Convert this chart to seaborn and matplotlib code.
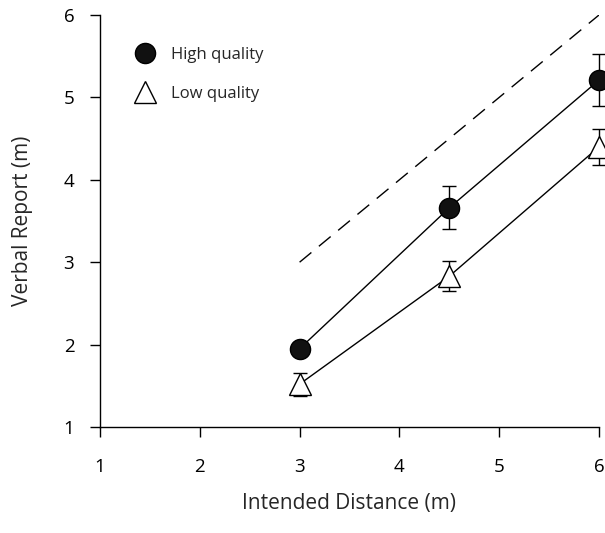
import numpy as np
import pandas as pd
import seaborn as sns
import matplotlib.pyplot as plt
from matplotlib.lines import Line2D

# values
distance = [3.0, 4.5, 6.0]
high_mean = [1.95, 3.66, 5.21]
high_err = [0.0, 0.26, 0.32]
low_mean = [1.52, 2.83, 4.40]
low_err = [0.14, 0.18, 0.22]
veridical = [3.0, 6.0]

df = pd.DataFrame({
    'distance': distance * 2,
    'report': high_mean + low_mean,
    'err': high_err + low_err,
    'quality': ['High quality'] * 3 + ['Low quality'] * 3,
})

sns.set_style('ticks')
plt.rcParams['font.family'] = ['Open Sans', 'DejaVu Sans']

fig = plt.figure(figsize=(6.05, 5.33), dpi=100)
ax = fig.add_axes([100 / 605, (533 - 427) / 533, 499 / 605, 412 / 533])

# veridical line
sns.lineplot(x=veridical, y=veridical, ax=ax, color='black', lw=1.0,
             dashes=False, zorder=1)
ax.lines[-1].set_dashes([11, 7])

# error bars
for q in ['High quality', 'Low quality']:
    d = df[df.quality == q]
    ax.errorbar(d.distance, d.report, yerr=d.err, fmt='none', ecolor='black',
                elinewidth=1.0, capsize=5, capthick=1.0, zorder=2, clip_on=False)

sns.lineplot(data=df, x='distance', y='report', style='quality',
             markers={'High quality': 'o', 'Low quality': '^'},
             dashes={'High quality': '', 'Low quality': ''},
             color='black', lw=1.0, ax=ax, legend=False, zorder=3)
for ln, fc, ms in zip(ax.lines[-2:], ['#111111', 'white'], [14.5, 16.5]):
    ln.set_markerfacecolor(fc)
    ln.set_markeredgecolor('black')
    ln.set_markersize(ms)
    ln.set_markeredgewidth(1.0)
    ln.set_clip_on(False)

ax.set_xlim(1, 6)
ax.set_ylim(1, 6)
ax.set_xticks([1, 2, 3, 4, 5, 6])
ax.set_yticks([1, 2, 3, 4, 5, 6])
ax.tick_params(direction='out', length=7.5, width=1.0, labelsize=13.5,
               colors='black')
ax.tick_params(axis='x', pad=15)
ax.tick_params(axis='y', pad=11)
for s in ['left', 'bottom']:
    ax.spines[s].set_linewidth(1.0)
    ax.spines[s].set_color('black')
sns.despine(ax=ax)

ax.set_xlabel('Intended Distance (m)', fontsize=15, labelpad=12)
ax.set_ylabel('Verbal Report (m)', fontsize=15, labelpad=22)

handles = [
    Line2D([], [], ls='none', marker='o', ms=14.5, mfc='#111111', mec='black'),
    Line2D([], [], ls='none', marker='^', ms=16.5, mfc='white', mec='black'),
]
ax.legend(handles, ['High quality', 'Low quality'], loc='upper left',
          bbox_to_anchor=(0.026, 0.958), frameon=False, fontsize=12,
          labelspacing=1.35, handletextpad=0.6)

fig.savefig('out.png', dpi=100)
